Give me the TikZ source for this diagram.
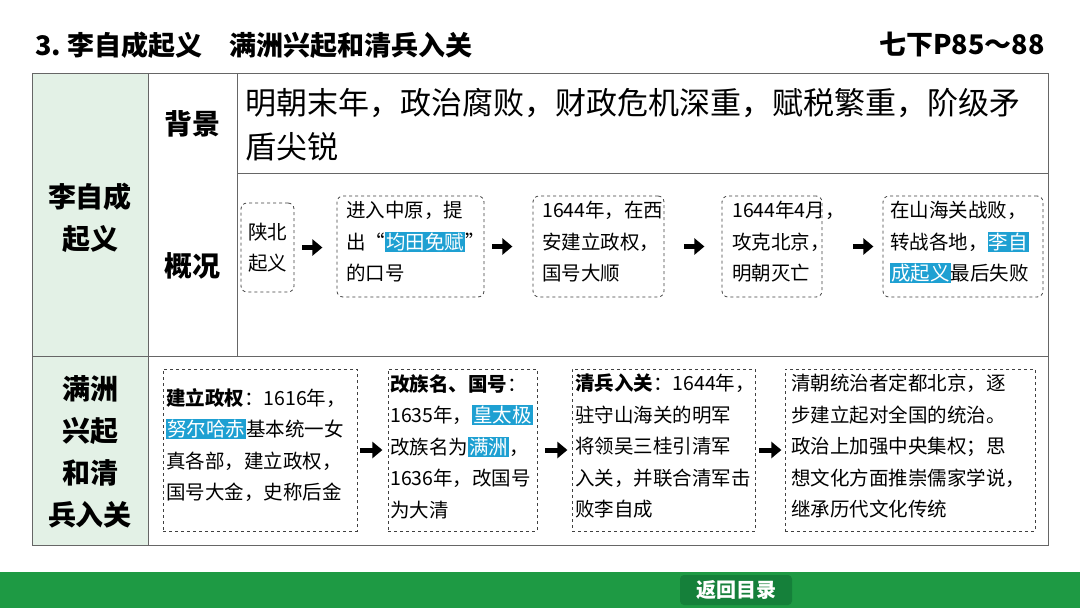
\documentclass[tikz,border=0pt]{standalone}
\usepackage{fontspec}
\setmainfont{Noto Sans CJK SC}
\usetikzlibrary{arrows.meta}
\definecolor{hlc}{HTML}{1EA0D2}
\definecolor{lg}{HTML}{E3F1E6}
\definecolor{barg}{HTML}{1E9A44}
\definecolor{btn}{HTML}{15803A}
\newcommand\hl[1]{{\setlength{\fboxsep}{1pt}\colorbox{hlc}{\textcolor{white}{#1}}}}
\begin{document}
\begin{tikzpicture}[x=1pt,y=-1pt,
  dbox/.style={draw=black!75,dashed,rounded corners=6pt,line width=0.8pt},
  sbox/.style={draw=black!75,dashed,line width=0.8pt},
  btxt/.style={anchor=north west,align=left,inner sep=0pt,font=\fontsize{19.5}{31.5}\selectfont},
  arr/.style={-{Triangle[length=10pt,width=16pt]},line width=5pt},
  lab/.style={font=\fontsize{28}{42}\selectfont\bfseries,align=center}]
\useasboundingbox (0,0) rectangle (1080,608);
\fill[white] (0,0) rectangle (1080,608);
% title
\node[anchor=west,font=\fontsize{27}{30}\selectfont\bfseries] (title) at (32,45) {3.\ 李自成起义\quad 满洲兴起和清兵入关};
\node[anchor=east,font=\fontsize{27}{30}\selectfont\bfseries] (page) at (1048,45) {七下P85～88};
% table
\fill[lg] (32,73) rectangle (148,545);
\draw[black!60,line width=0.8pt] (32,73) rectangle (1048,545);
\draw[black!60,line width=0.8pt] (148,73) -- (148,545) (237,73) -- (237,356)
  (237,173) -- (1048,173) (32,356) -- (1048,356);
\node[lab] (l1) at (90,218) {李自成\\起义};
\node[lab] (l2) at (90,452) {满洲\\兴起\\和清\\兵入关};
\node[lab] (bj) at (192,124) {背景};
\node[lab] (gk) at (192,266) {概况};
\node[anchor=north west,align=left,inner sep=0pt,font=\fontsize{31}{44}\selectfont] (bg) at (245,88) {明朝末年，政治腐败，财政危机深重，赋税繁重，阶级矛\\盾尖锐};
% row 1 boxes
\node[dbox,minimum width=53pt,minimum height=89pt,font=\fontsize{19.5}{31.5}\selectfont,align=center] (a1) at (267.5,247.5) {陕北\\起义};
\node[dbox,minimum width=147pt,minimum height=101pt] (a2) at (410.5,246.5) {};
\node[btxt] at (346,201) {进入中原，提\\出“\hl{均田免赋}”\\的口号};
\node[dbox,minimum width=131pt,minimum height=101pt] (a3) at (598.5,246.5) {};
\node[btxt] at (542,201) {1644年，在西\\安建立政权，\\国号大顺};
\node[dbox,minimum width=100pt,minimum height=101pt] (a4) at (772,246.5) {};
\node[btxt] at (732,201) {1644年4月，\\攻克北京，\\明朝灭亡};
\node[dbox,minimum width=160pt,minimum height=101pt] (a5) at (963,246.5) {};
\node[btxt] at (890,201) {在山海关战败，\\转战各地，\hl{李自}\\\hl{成起义}最后失败};
\draw[arr] (a1.east)++(8,0) -- ++(20,0);
\draw[arr] (a2.east)++(8,0) -- ++(20,0);
\draw[arr] (a3.east)++(20,0) -- ++(20,0);
\draw[arr] (a4.east)++(31,0) -- ++(20,0);
% row 2 boxes
\node[sbox,minimum width=194pt,minimum height=162pt] (b1) at (260,450) {};
\node[btxt] at (166,388) {\textbf{建立政权}：1616年，\\\hl{努尔哈赤}基本统一女\\真各部，建立政权，\\国号大金，史称后金};
\node[sbox,minimum width=149pt,minimum height=162pt] (b2) at (462.5,450) {};
\node[btxt] at (390,374) {\textbf{改族名、国号}：\\1635年，\hl{皇太极}\\改族名为\hl{满洲}，\\1636年，改国号\\为大清};
\node[sbox,minimum width=183pt,minimum height=162pt] (b3) at (663.5,450) {};
\node[btxt] at (575,374) {\textbf{清兵入关}：1644年，\\驻守山海关的明军\\将领吴三桂引清军\\入关，并联合清军击\\败李自成};
\node[sbox,minimum width=250pt,minimum height=162pt] (b4) at (910,450) {};
\node[btxt] at (791,374) {清朝统治者定都北京，逐\\步建立起对全国的统治。\\政治上加强中央集权；思\\想文化方面推崇儒家学说，\\继承历代文化传统};
\draw[arr] (b1.east)++(3,0) -- ++(22,0);
\draw[arr] (b2.east)++(8,0) -- ++(22,0);
\draw[arr] (b3.east)++(4,0) -- ++(22,0);
% bottom bar
\fill[barg] (0,572) rectangle (1080,608);
\node[fill=btn,rounded corners=4pt,text=white,minimum width=112pt,minimum height=30pt,font=\fontsize{20}{24}\selectfont\bfseries] (back) at (736,590) {返回目录};
\end{tikzpicture}
\end{document}
